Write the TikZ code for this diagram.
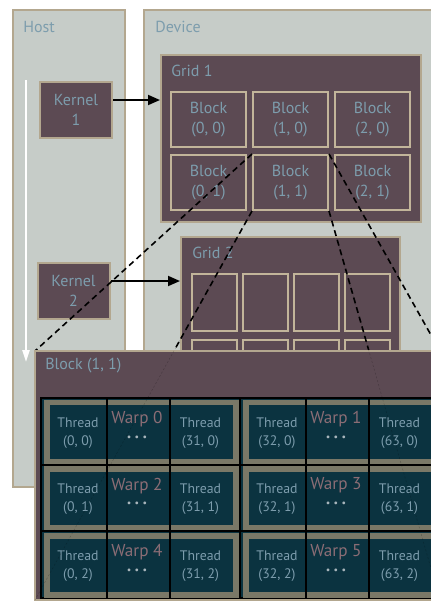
\documentclass[tikz,border=0pt]{standalone}
\usepackage{fontspec}
\setmainfont{PT Sans}
\usepackage{tikz}
\usetikzlibrary{arrows.meta, positioning}
\usepackage{xcolor}

\definecolor{panelgray}{HTML}{C6CCC8}
\definecolor{edgetan}{HTML}{B3A78F}
\definecolor{blockedge}{HTML}{C2B59A}
\definecolor{mauve}{HTML}{5C4A53}
\definecolor{labelblue}{HTML}{7D9DAD}
\definecolor{threadteal}{HTML}{0B3340}
\definecolor{framegray}{HTML}{7A7867}
\definecolor{warprose}{HTML}{8B6D75}
\definecolor{dotgray}{HTML}{A9B6BC}

\begin{document}
\begin{tikzpicture}[
  x=0.5pt, y=-0.5pt,
  panel/.style={
    rectangle, draw=edgetan, line width=1pt,
    fill=panelgray, inner sep=0pt
  },
  paneltag/.style={
    anchor=west, inner sep=0pt, text=labelblue,
    font=\fontsize{8}{9.5}\selectfont
  },
  gridbox/.style={
    rectangle, draw=edgetan, line width=1pt,
    fill=mauve, inner sep=0pt
  },
  kernel/.style={
    rectangle, draw=edgetan, line width=1pt, fill=mauve,
    minimum width=36pt, minimum height=28pt, inner sep=0pt,
    align=center, text=labelblue, font=\fontsize{8}{10}\selectfont
  },
  blk/.style={
    rectangle, draw=blockedge, line width=1pt, fill=mauve,
    minimum width=37.5pt, minimum height=27.5pt, inner sep=0pt,
    align=center, text=labelblue, font=\fontsize{8}{9.6}\selectfont
  },
  emptyblk/.style={
    rectangle, draw=blockedge, line width=1pt,
    minimum width=22.5pt, minimum height=28.5pt, inner sep=0pt
  },
  warpbox/.style={
    rectangle, draw=black, line width=1pt, fill=threadteal,
    minimum width=99.5pt, minimum height=33.3pt, inner sep=0pt
  },
  thread/.style={
    align=center, inner sep=0pt, text=labelblue,
    font=\fontsize{6.9}{9}\selectfont
  },
  warplbl/.style={inner sep=0pt, text=warprose, font=\fontsize{8.6}{9}\selectfont},
  dots/.style={inner sep=0pt, text=dotgray, font=\fontsize{5}{6}\selectfont},
  arr/.style={-{Triangle[length=6pt, width=5pt]}, line width=0.9pt},
  zoomline/.style={dash pattern=on 3pt off 2pt, line width=0.8pt},
  faintline/.style={black, opacity=0.25, line width=0.2pt, dash pattern=on 1pt off 1pt}
]
\useasboundingbox (0,0) rectangle (431,601);
\clip (0,0) rectangle (431,601);
\fill[white] (0,0) rectangle (431,601);

% host and device
\node[panel, minimum width=56pt, minimum height=238.5pt] (host) at (69,248.5) {};
\node[panel, minimum width=153pt, minimum height=238.5pt] (device) at (297,248.5) {};
\node[paneltag] (hostlbl) at (23,27) {Host};
\node[paneltag] (devlbl) at (155,27) {Device};

% kernels
\node[kernel] (kone) at (76,110) {Kernel\\1};
\node[kernel] (ktwo) at (73.5,291) {Kernel\\2};

\coordinate (flowtop) at (26,80);
\coordinate (flowend) at (26,362);
\draw[white, line width=0.9pt, -{Triangle[length=6pt, width=3.6pt]}] (flowtop) -- (flowend);

% grid 1
\node[gridbox, minimum width=130pt, minimum height=83.5pt] (gone) at (291,138.5) {};
\node[paneltag] (gonelbl) at (171,71) {Grid 1};
\foreach \i in {0,1,2}
  \foreach \j in {0,1}
    \node[blk] (b\i\j) at (208.5+82*\i, 119.5+63*\j) {Block\\(\i, \j)};

% grid 2
\node[gridbox, minimum width=109.5pt, minimum height=96.5pt] (gtwo) at (290.5,333.5) {};
\node[paneltag] (gtwolbl) at (192,253) {Grid 2};
\foreach \i in {0,...,3}
  \foreach \j in {0,1}
    \node[emptyblk] (e\i\j) at (214.5+51*\i, 302.5+66*\j) {};

\draw[arr] ([yshift=5pt]kone.east) -- ([yshift=5pt]kone.east -| gone.west);
\draw[arr] ([yshift=5pt]ktwo.east) -- ([yshift=5pt]ktwo.east -| gtwo.west);

% zoom onto block (1, 1)
\coordinate (bbnw) at (35,351);
\coordinate (bbne) at (440,351);
\coordinate (bbsw) at (35,600);
\coordinate (bbse) at (440,600);
\draw[zoomline] (b11.north west) -- (bbnw);
\draw[zoomline] (b11.south west) -- (bbsw);
\draw[zoomline] (b11.north east) -- (bbne);
\draw[zoomline] (b11.south east) -- (bbse);

\node[gridbox, minimum width=202.5pt, minimum height=124.5pt] (big) at (237.5,475.5) {};
\node[paneltag] (biglbl) at (45,366) {Block (1, 1)};

\fill[black] (41,398) rectangle (440,598);
\foreach \r in {0,1,2}{
  \foreach \c in {0,1}{
    \pgfmathsetmacro\gx{41+199*\c}
    \pgfmathsetmacro\ty{398+66.67*\r}
    \pgfmathtruncatemacro\wn{2*\r+\c}
    \pgfmathtruncatemacro\ta{32*\c}
    \pgfmathtruncatemacro\tb{32*\c+31}
    \node[warpbox] (w\wn) at (\gx+99.5, \ty+33.33) {};
    \draw[framegray, line width=2.8pt]
      ([shift={(7,5.5)}]w\wn.north west) rectangle ([shift={(-5,-4.2)}]w\wn.south east);
    \draw[black, line width=1pt] ([xshift=33.25pt]w\wn.north west) -- ([xshift=33.25pt]w\wn.south west);
    \draw[black, line width=1pt] ([xshift=65pt]w\wn.north west) -- ([xshift=65pt]w\wn.south west);
    \node[thread] (ta\wn) at (\gx+37, \ty+35) {Thread\\(\ta, \r)};
    \node[thread] (tb\wn) at (\gx+159.5, \ty+35) {Thread\\(\tb, \r)};
    \node[warplbl] (wl\wn) at (\gx+96, \ty+21) {Warp \wn};
    \node[dots] (wd\wn) at (\gx+96, \ty+40) {•\,\,•\,\,•};
  }
}

\draw[faintline] (b11.south west) -- (bbsw);
\draw[faintline] (b11.south east) -- (bbse);

\end{tikzpicture}
\end{document}
